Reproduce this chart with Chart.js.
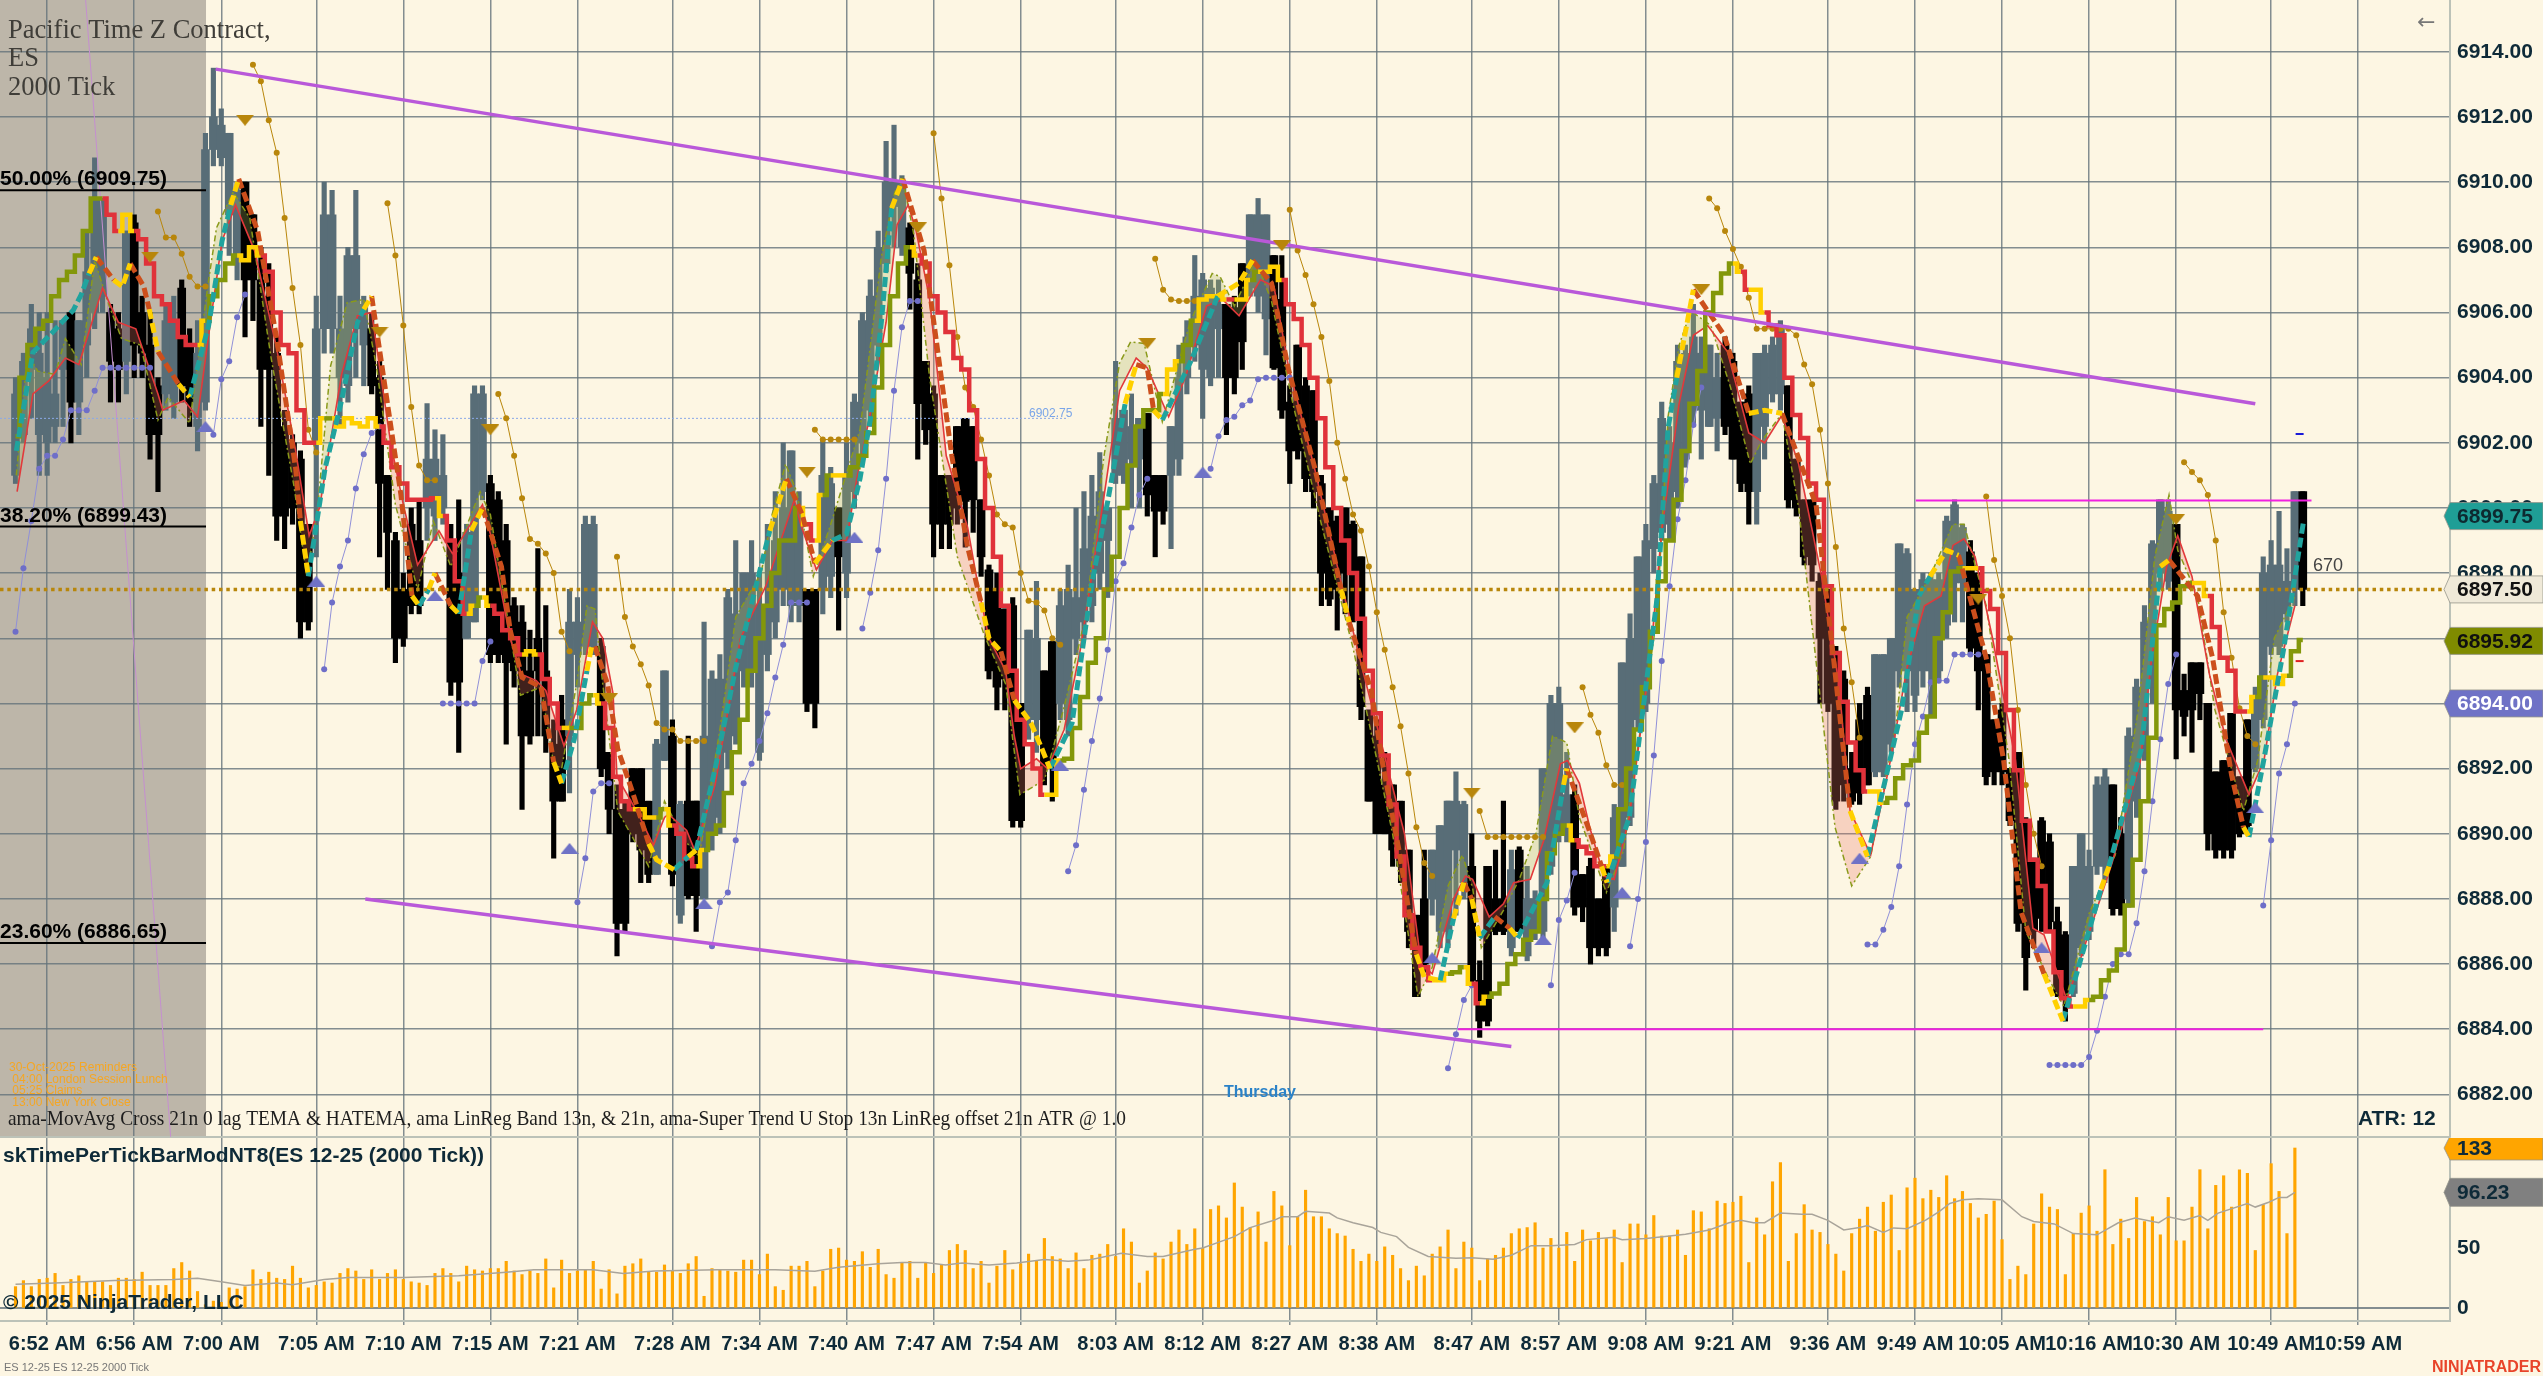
<!DOCTYPE html>
<html>
<head>
<meta charset="utf-8">
<title>ES 12-25 2000 Tick</title>
<script src="https://cdn.jsdelivr.net/npm/chart.js@4"></script>
<style>
  html, body { margin: 0; padding: 0; background: #fdf6e3; overflow: hidden; }
  canvas { position: absolute; left: 0; display: block; }
  #priceChart { top: 0; }
  #volChart { top: 1138px; }
</style>
</head>
<body>
<canvas id="priceChart" width="2543" height="1138"></canvas>
<canvas id="volChart" width="2543" height="238"></canvas>
<script>
const tickBars = [4,15,26,38,49,60,71,83,94,105,116,127,139,150,161,172,184,195,206,217,229,240,251,262,273,285,296];
const tickLabels = ['6:52 AM','6:56 AM','7:00 AM','7:05 AM','7:10 AM','7:15 AM','7:21 AM','7:28 AM','7:34 AM','7:40 AM','7:47 AM','7:54 AM','8:03 AM','8:12 AM','8:27 AM','8:38 AM','8:47 AM','8:57 AM','9:08 AM','9:21 AM','9:36 AM','9:49 AM','10:05 AM','10:16 AM','10:30 AM','10:49 AM','10:59 AM'];
const priceTicks = [6882,6884,6886,6888,6890,6892,6894,6896,6898,6900,6902,6904,6906,6908,6910,6912,6914];
const volTicks = [0,50,100];

const barOpen = [6901,6902.25,6904.25,6902.25,6902,6902.5,6904.25,6906,6903.25,6905,6906,6906.5,6906,6905.5,6904.5,6908.75,6906,6905,6903.75,6903.5,
6903.25,6906.75,6905,6902.5,6903.25,6911,6910.75,6909,6907.75,6910,6909,6907,6906.5,6904.75,6902.5,6902,6901.5,6899.5,6902,6905.5,
6905.5,6904,6903.75,6905.5,6905,6905.5,6904,6901,6899,6897.5,6899.5,6899,6900,6899.75,6900,6899,6898,6896,6896.5,6900.5,
6900.75,6900.25,6899,6897,6896.5,6895,6896,6895,6892.75,6893.5,6893,6895.5,6895.75,6895.75,6895.75,6892.5,6890.75,6890.75,6892,6892,
6891,6888.75,6892.25,6893,6887.5,6891,6891,6888,6890,6890.5,6892.5,6893,6895,6895,6892.5,6895.5,6896.5,6897.5,6897,6897,
6897.5,6897.5,6897.5,6897.9,6900,6898,6900.5,6902,6903,6905,6907.5,6909.25,6908,6908.6,6907,6904.5,6903.5,6901,6901,6902.5,
6902.75,6902.5,6900.25,6898.1,6897.5,6896.9,6897,6894,6893.5,6893.5,6895,6895.9,6894,6893.5,6896,6896.5,6897,6898,6899,6901,
6901,6901.5,6901.5,6902.9,6901,6901,6901,6901.5,6904,6905,6904.25,6904,6905.5,6906.25,6906.15,6907.5,6906.75,6906.5,6905.8,6907.75,
6906.4,6903.25,6905,6903.75,6903.6,6900.75,6900,6899.6,6900,6899.5,6898.5,6893.8,6893,6891.5,6891.5,6891,6889.5,6887.5,6888,6888,
6887,6887,6889.5,6888.5,6889,6885.5,6889,6888,6888,6886.5,6889.5,6886.25,6887,6887,6889,6890,6890,6891.2,6888.75,6889,
6888,6889,6887.75,6889,6890.5,6893.5,6894,6898.75,6899.25,6899.5,6900.5,6901.5,6903,6903,6902.5,6902.75,6905,6904.5,6903.25,6903.5,
6900.5,6902.5,6903.5,6903.5,6903.75,6901.5,6900.25,6900.25,6897.75,6897.5,6895.6,6894.75,6892,6893.5,6894.25,6891.9,6891.9,6892.75,6895,6895,
6894.25,6895,6895,6895,6896.4,6897.7,6897.7,6898.65,6898,6895.5,6893.5,6893.8,6892,6892.5,6890.4,6889.25,6890.4,6889.75,6887.3,6886.9,
6885.1,6886.5,6887,6889,6889,6891.5,6890,6888,6891,6892.5,6894.5,6898,6897.75,6899.5,6894.4,6895.25,6895.25,6894,6891.9,6892.25,
6893.7,6891.75,6893.5,6892,6893.5,6895.75,6895.75,6896.75,6897.5,6900.5];
const barClose = [6903.5,6904.5,6905.5,6904.75,6904,6903.5,6905.75,6903.25,6905.75,6907.25,6909.5,6909.5,6904.5,6904.25,6908.5,6905,6904.75,6902.25,6902.25,6905.75,
6905.75,6903.75,6903.25,6904.75,6911,6912,6911.75,6911.5,6909.75,6907,6907,6904.25,6904.25,6899.75,6899.75,6900,6896.5,6896.5,6905.5,6909,
6909,6905.5,6907.75,6907.75,6906.25,6903.75,6900.75,6899.25,6896,6896,6897,6897,6901.5,6901.5,6901,6894.65,6894.65,6899.25,6903.5,6903.5,
6895.5,6895.5,6895.25,6895,6893,6893,6895,6893,6891,6891,6896.5,6896.5,6899.5,6899.5,6892,6890.75,6887.25,6887.25,6890,6889.5,
6888.75,6892.75,6895,6888.75,6890.9,6888.1,6888.1,6893,6894.75,6894.75,6897.25,6896.75,6898,6898,6897,6897,6899,6900,6901.75,6900,
6894,6894,6901,6900.75,6898.5,6901,6903.25,6905.75,6906.5,6908,6910,6910,6910,6907.2,6903.2,6902.4,6899.5,6899.5,6899.5,6900,
6900.2,6900.25,6898.5,6895,6894.5,6894.75,6890.4,6890.4,6896.25,6896,6892,6892,6897,6897.5,6897.25,6898.75,6899.75,6900.5,6900,6902.75,
6903,6902.5,6902.75,6900.4,6899.9,6899.9,6902.5,6904,6905.25,6906.5,6907,6906.75,6906.25,6904,6904,6905.1,6909,6909,6909,6904.3,
6903,6901.75,6901.75,6900.9,6900.5,6898,6897.2,6897.5,6898,6896.6,6893.9,6891,6890,6890,6889.5,6889,6887,6885,6886,6889.5,
6890.25,6891,6891,6890.9,6885.5,6884.25,6884.25,6887,6887,6888.9,6887,6888,6888,6892,6894,6894,6891.2,6887.75,6887.75,6886.5,
6886.5,6886.5,6890.5,6895.25,6896,6898.5,6899,6900.75,6902.75,6902,6904.5,6904.75,6905.25,6904.75,6905,6904,6902.5,6901.5,6900.75,6900.5,
6904.75,6904.75,6905,6905.5,6900.25,6900,6898.5,6898.25,6896,6894,6891,6891.5,6891,6891.25,6891.5,6895.5,6895.5,6896,6898.9,6898.6,
6897.5,6897.8,6897.8,6897.8,6899.6,6900.1,6899.4,6895.7,6895,6891.75,6891.9,6891.9,6890.4,6887.25,6886.2,6887,6887.4,6887.3,6885.1,6885.1,
6889,6890,6889,6891.5,6891.75,6887.7,6887.7,6893,6894.5,6896.5,6898.9,6900.25,6899.9,6893.8,6893.6,6893.8,6894.3,6890,6889.5,6889.5,
6889.5,6890,6890.25,6894.25,6898,6898.25,6898.25,6897.75,6900.5,6897.5];
const barHigh = [6904,6904.75,6906.25,6906,6906,6905.75,6905.75,6906,6905.75,6908.5,6910.75,6909.5,6906.25,6906,6908.5,6909,6906.5,6906,6904,6906.25,
6906.5,6907,6905.5,6905.75,6911.5,6913.5,6912.25,6911.5,6910,6910,6909,6908,6907.5,6905.25,6903,6902.25,6901.75,6899.5,6906.5,6910,
6909.75,6906.5,6908,6909.75,6906.5,6906,6904.5,6901,6899.25,6898,6900,6900.25,6903.2,6902.4,6902.25,6899.5,6900.25,6899.5,6903.75,6903.75,
6901,6900.5,6899.5,6897.25,6897,6896.25,6898.75,6897,6893.5,6894.25,6897.5,6897.25,6899.75,6899.75,6896,6892.5,6891.5,6891,6892,6892,
6891,6892.9,6895,6893.5,6891,6893,6891,6896.5,6895,6895.5,6897.5,6899,6898,6899,6898,6899.5,6900.5,6902,6901.75,6900.5,
6897.5,6897.5,6902.1,6901.25,6900,6902,6903.5,6906,6907,6908.5,6911.25,6911.75,6910.2,6908.75,6907.5,6904.5,6903.75,6901,6901,6902.5,
6902.75,6902.5,6900.25,6898.25,6898,6896.9,6897.25,6894,6896.25,6897.75,6895,6895.9,6897.5,6898.25,6900,6900.5,6901,6901.7,6900,6904.5,
6903,6903.5,6902.75,6902.9,6901,6901,6902.5,6905,6905.75,6907.75,6907.2,6907,6907,6906.25,6906.5,6907.5,6909,6909.5,6909,6907.75,
6907.75,6903.75,6905,6904,6903.6,6901,6900,6899.75,6900,6899.6,6898.5,6893.8,6893.5,6892.5,6891.5,6891,6889.5,6887.5,6889.5,6889.5,
6890.25,6891,6891.9,6891,6890,6886.1,6889,6889.5,6891,6889.5,6889.6,6889,6888.25,6892,6894.25,6894.5,6892.5,6891.5,6888.75,6889.25,
6888,6889,6890.9,6895.25,6896.75,6898.5,6899.5,6901,6903.25,6902.5,6905,6905,6906.25,6905.25,6905,6904.75,6905.25,6904.75,6903.25,6903.75,
6904.75,6905,6905.25,6905.75,6903.75,6901.5,6900.25,6900.25,6898,6897.5,6895.75,6895,6892.5,6894,6894.5,6895.5,6895.5,6896,6898.9,6898.75,
6897.5,6898,6898,6898,6899.75,6900.25,6899.5,6899,6898,6895.5,6893.5,6894,6892,6892.5,6890.5,6889.25,6890.5,6890,6887.75,6887,
6889,6890,6889.5,6891.75,6892,6891.5,6890.5,6893.25,6894.75,6897,6899,6900.25,6900.25,6899.5,6894.9,6895.25,6895.25,6894,6891.9,6892.25,
6893.7,6891.75,6893.5,6894.5,6898.5,6899,6899.9,6898.75,6900.5,6900.5];
const barLow = [6900.75,6902,6902.75,6901,6901,6902,6902.5,6902,6902.25,6904,6905.5,6906,6903.25,6903.25,6903.5,6904,6904,6901.5,6900.5,6903,
6902.75,6903.25,6902.5,6901.75,6903,6910.5,6910.5,6907.75,6907,6905.25,6905.75,6902.5,6901,6899,6898.75,6899.5,6896,6896.25,6898.5,6904.75,
6904.75,6902.5,6903.25,6904,6903.75,6903.5,6898.5,6897.5,6895.25,6895.75,6896.75,6896.75,6899,6899,6899.5,6894.25,6892.5,6896,6896.5,6900.25,
6895.25,6895.25,6892.75,6894.5,6890.75,6892.75,6893,6892.5,6889.25,6891,6891.25,6894.5,6895.5,6895.5,6891.75,6890,6886.25,6887,6889.75,6888.5,
6888.5,6888.75,6892.25,6888.4,6887.25,6888,6887,6888,6889.5,6890,6892,6892.75,6894.5,6894.5,6892.25,6895,6896,6897,6896.5,6896.5,
6893.75,6893.25,6896.75,6897.25,6896.25,6897.25,6900,6901.5,6902.5,6904.5,6907.25,6908,6907.75,6906.1,6901.5,6901.95,6898.5,6898.75,6898.75,6899.5,
6898.8,6899.25,6897.9,6894.75,6893.8,6893.8,6890.2,6890.2,6892.9,6892.5,6891.5,6891,6893.5,6893,6895.5,6896,6896.5,6897.5,6897.25,6900.75,
6900.75,6900,6900,6899.75,6898.5,6899.5,6898.75,6901,6903.5,6904.5,6902.75,6903.75,6904,6902.25,6903.5,6904.25,6906.5,6906,6904.7,6904.25,
6902.75,6900.75,6901.5,6900.5,6900,6897,6897,6896.25,6896.75,6896.5,6893.5,6891,6890,6890,6889,6888.5,6886.5,6885,6885.75,6887.5,
6886.5,6886.5,6887.5,6888,6885.4,6883.75,6884.1,6886.9,6886.9,6886.25,6887,6886.1,6886.75,6886.75,6888.75,6889.75,6889.75,6887.5,6887.3,6886,
6886.25,6886.25,6887,6889,6890.25,6893.25,6893.75,6898,6899,6899,6900,6901.25,6902.5,6901.5,6902.5,6901.75,6902.25,6901.5,6900.5,6899.5,
6899.5,6901.5,6903.25,6903,6900,6899.75,6898.25,6897.75,6894,6893.75,6890.75,6891,6890.9,6890.9,6891.5,6891.75,6891.75,6892.5,6894.5,6893.75,
6893.75,6894.5,6893.6,6894.75,6896,6896.5,6896.5,6895.5,6893.8,6891.5,6891.5,6891.5,6890.25,6887,6885.2,6886.5,6887,6887,6885,6884.25,
6885,6886.25,6886.75,6888.75,6888.5,6887.5,6887.5,6887.75,6890.5,6892.25,6894,6897.5,6897.5,6892.3,6893,6892.5,6893.5,6889.5,6889.25,6889.25,
6889.25,6889.9,6890,6891.9,6893.25,6895.5,6895.5,6896.5,6897,6897];

const stepLine = [6902.2,6904,6905,6905.5,6905.75,6906.5,6907,6907.25,6907.75,6908.5,6909.5,6909.5,6909,6908.5,6909,6908.5,6908.25,6907.5,6906.5,6906.25,
6905.75,6905.25,6905,6905,6905.75,6906.5,6907,6907.5,6907.75,6907.6,6908,6907.75,6907.25,6906,6905,6904.75,6903,6902,6902,6902.75,
6902.75,6902.5,6902.75,6902.6,6902.5,6902.75,6902.5,6902,6901.25,6900.75,6900.25,6900.25,6900.25,6900.3,6899.75,6899,6897.75,6896.75,6897,6897.25,
6897,6896.75,6896.25,6896,6895.5,6895.6,6895.5,6894.75,6894,6893.25,6893.25,6893.25,6894,6894.25,6894,6893.25,6891.75,6891,6890.75,6890.75,
6890.5,6890.5,6890.75,6890.25,6890,6889.25,6889,6889.5,6890,6890.25,6891.25,6892.5,6893.5,6895,6896,6897,6898,6899,6899,6900,
6899.5,6899,6900.4,6901,6901,6901,6901.25,6901.6,6902.3,6903.7,6905,6906.5,6907.5,6908,6907.75,6907.5,6906.5,6906,6905.4,6904.6,
6904.25,6903,6901.5,6900,6898.5,6897,6895,6893.5,6892.75,6892,6891.2,6891.2,6892.25,6892.3,6893.25,6894.2,6895.25,6896,6897.5,6898.5,
6900,6901.3,6902.5,6903,6903,6903.5,6904.25,6904.5,6905,6905.75,6906.4,6906.5,6906.5,6906.4,6906.4,6906.4,6907,6907.25,6907.25,6907.4,
6907,6906.25,6905.8,6905,6904,6902.75,6901.25,6900,6899,6898,6896.6,6895,6893.7,6892.4,6890.9,6889.3,6887.5,6886.5,6885.9,6885.5,
6885.5,6885.7,6885.75,6885.9,6885.4,6884.8,6885,6885.1,6885.4,6886,6886.3,6886.75,6887,6888,6889.4,6890,6890.25,6889.8,6889.6,6889.4,
6889,6889,6889.3,6890.75,6892,6893.2,6894.5,6896.2,6897.75,6899,6900.25,6901.75,6903.2,6904.2,6906,6906.6,6907.2,6907.5,6907.25,6906.7,
6906.7,6906,6905.6,6905.3,6904,6902.85,6902.15,6900.75,6900.25,6897.6,6895.55,6894.05,6892.8,6891.95,6891.3,6891.3,6890.95,6891.1,6891.7,6892.1,
6892.25,6893.1,6893.6,6896,6896.8,6898.05,6898.15,6898.15,6898.15,6897.45,6896.9,6895.55,6893.8,6891.95,6890.4,6889.2,6888.4,6887,6885.75,6884.95,
6884.7,6884.7,6884.9,6885,6885.5,6885.8,6886.45,6887.8,6889.2,6891,6892.95,6896.4,6896.9,6897.1,6897.6,6897.7,6897.7,6897.3,6896.35,6895.4,
6895,6893.75,6893.75,6894.2,6894.8,6894.8,6894.6,6894.85,6895.6,6895.95];
const stepRuns = [['o',11],['r',2],['y',2],['r',8],['y',1],['o',4],['y',3],['r',7],['y',1],['o',1],['y',6],['r',7],['y',1],['r',3],['y',1],['o',1],['y',1],['r',4],['y',2],['r',3],['y',1],['o',3],['y',1],['r',4],['y',3],['o',1],['y',1],['r',3],['y',1],['o',12],['y',1],['r',1],['y',1],['o',1],['y',2],['o',8],['y',1],['r',16],['y',2],['o',13],['y',2],['o',2],['y',4],['r',1],['y',2],['o',1],['y',3],['r',19],['y',2],['o',2],['y',1],['r',1],['y',1],['o',10],['y',1],['r',4],['y',1],['o',15],['y',1],['r',1],['y',2],['r',13],['y',2],['o',10],['y',2],['r',12],['y',2],['o',13],['y',2],['r',5],['y',1],['o',1],['y',3],['o',3]];

const dashTeal = [[0.1,6901.75],[2.2,6904.77],[4.9,6905.45],[7.3,6906.07],[8.3,6906.55],[9.3,6907.2],null,
[22,6903.4],[24.4,6905.6],[26.1,6908.2],[27.2,6909.3],null,[37,6897.9],[39.1,6901.2],[41.2,6903.3],[43.2,6905.7],[44,6906.1],null,
[51,6897],[52.2,6897.5],null,[56,6896.75],[57.6,6899.3],null,[69,6891.55],[70.6,6892.9],[72.2,6895],null,[83.2,6888.9],[85,6889.3],null,
[86,6889.5],[88.4,6892],[91,6895.1],[95.3,6899.3],null,[103.2,6899],[105,6899.2],[106.7,6900.9],[108,6902.7],[109.4,6905.7],[110.7,6909.2],null,
[130.7,6892],[133.5,6893.4],[136,6897.7],[138,6900.2],[140.2,6903.2],null,[144.9,6902.7],[148.5,6904.5],[151.9,6906.5],null,
[180,6885.5],[181.7,6887.4],null,[185,6886.8],[186.9,6887.45],null,[189.8,6886.8],[193.5,6888.5],[195.6,6891.5],null,
[201.1,6888.5],[203.9,6890.5],[207.4,6897.2],[208.8,6902.45],[209.9,6904],null,[234,6889.3],[238.3,6893.8],[240.5,6897.3],[241.9,6897.9],null,
[258.7,6884.25],[263.5,6888.3],null,[264.5,6889],[268.6,6892.6],[271,6898.2],null,[282.2,6889.9],[284.1,6892.3],[286.6,6895.7],[289.1,6899.6]];
const dashOrange = [[10.2,6907.7],[12.4,6907],null,[14.5,6907.5],[16.2,6906.8],[16.9,6906.1],null,[18,6904.8],[20.6,6903.8],null,
[28.2,6910.1],[30.6,6908.5],[33,6905.2],[35.4,6901.2],[36,6899.6],null,[45,6906.5],[46.7,6903.7],[48.7,6900.4],[50.1,6897.3],null,[53,6898],[55,6897],null,
[59,6900],[61.4,6898.2],[62.5,6896.25],[64,6894.8],[66.4,6894.5],[68,6892.2],null,[73.2,6895.75],[74.8,6894.6],[76.1,6892.6],[78,6891.25],[80,6889.7],null,
[97.4,6900.9],[99.4,6899.8],[101,6898.3],null,[112.1,6910.1],[114.8,6907.9],[116.2,6905.4],[118.3,6901.6],[120.3,6898.8],[122,6897.1],null,
[124.5,6895.6],[126.2,6894.1],null,[141.6,6904.4],[143,6904.3],[143.8,6903],null,[156.3,6907.6],[158.7,6906.9],[160.8,6904.3],[164.2,6901.2],[167.5,6897.5],null,
[168.5,6896.5],[171.3,6894.4],[172.7,6892.2],[174.8,6889.5],[176.2,6887.4],[177,6886.3],null,[183,6888.5],[184,6888],null,[186.9,6887.45],[188.8,6887.1],null,
[196,6892],[199,6890],[200.4,6889],null,[212,6906.7],[215.9,6905.3],[219,6902.9],null,[223.2,6902.9],[227.5,6900.1],[229.7,6895.4],[231.8,6890.7],null,
[245.5,6898.55],[249,6895.4],[251.2,6892.25],[253.4,6887.6],[256.3,6885.7],null,[272.1,6898.4],[275.7,6897.3],[277.6,6895.4],[280,6891.8],[281.5,6890.2]];
const dashYellow = [[9.3,6907.2],[10.2,6907.7],null,[12.4,6907],[13.5,6906.8],[14.5,6907.5],null,[16.9,6906.1],[18,6904.8],null,[20.6,6903.8],[22,6903.4],null,
[27.2,6909.3],[28.2,6910.1],null,[36,6899.6],[37,6897.9],null,[44,6906.1],[45,6906.5],null,[50.1,6897.3],[51,6897],null,[52.2,6897.5],[53,6898],null,[55,6897],[56,6896.75],null,
[57.6,6899.3],[59,6900],null,[68,6892.2],[69,6891.55],null,[72.2,6895],[72.8,6895.75],null,[80,6889.7],[81,6889.2],[83.2,6888.9],null,[85,6889.3],[86,6889.5],null,
[95.3,6899.3],[97.4,6900.9],null,[101,6898.3],[103.2,6899],null,[110.7,6909.2],[112.1,6910.1],null,[122,6897.1],[123,6896],[124.5,6895.6],null,
[126.2,6894.1],[128.3,6893.4],[129.7,6892.6],[130.7,6892],null,[140.2,6903.2],[141.6,6904.4],null,[143.8,6903],[144.9,6902.7],null,[151.9,6906.5],[154.6,6906.9],[156.3,6907.6],null,
[167.5,6897.5],[168.5,6896.5],null,[177,6886.3],[178,6885.6],[180,6885.5],null,[181.7,6887.4],[183,6888.5],null,[184,6888],[185,6886.8],null,[188.8,6887.1],[189.8,6886.8],null,
[195.6,6891.5],[196,6892],null,[200.4,6889],[201.1,6888.5],null,[209.9,6904],[212,6906.7],null,[219,6902.9],[221,6903],[223.2,6902.9],null,[231.8,6890.7],[234,6889.3],null,
[241.9,6897.9],[244,6898.7],[245.5,6898.55],null,[256.3,6885.7],[258.7,6884.25],null,[263.5,6888.3],[264.5,6889],null,[271,6898.2],[272.1,6898.4],null,[281.5,6890.2],[282.2,6889.9]];

const thinRed = [[0.2,6900.5],[2.2,6903.5],[4.2,6903.9],[6.3,6904.6],[8,6904.4],[11,6906.75],[13,6905.7],[15.2,6905.5],[18,6903.5],[18.6,6903],[21.3,6903.3],[23,6902.8],[24.8,6906],[26.1,6908.2],[27.8,6909.3],[30.2,6907.9],[33,6904.9],[35.4,6901.75],[37.1,6899.15],[38.4,6900],[41.2,6904.1],[43.2,6905.9],[45,6906],[47.4,6902],[49,6900.1],[50.8,6898.25],[53.5,6899.3],[55.2,6898.6],[59,6900.1],[60,6899.2],[62.5,6896],[63.9,6894.9],[65.8,6894.7],[67,6894.4],[69.3,6892.7],[70.9,6893.8],[72.9,6896.5],[74.2,6896],[75.5,6894.3],[76,6891.75],[78.7,6890.6],[80.6,6889.65],[82,6890.5],[82.5,6890.6],[84.8,6890.1],[85.8,6889.5],[88.4,6891.5],[91.6,6896],[94.8,6897.6],[98.4,6900.25],[99.2,6899.5],[101.2,6898.1],[103.2,6899],[105,6899],[106.3,6900.9],[108,6902.9],[110,6905.7],[111.4,6908.7],[112.8,6909.3],[113.8,6908.5],[115.5,6906.4],[117.6,6901.6],[120.3,6899.4],[121.7,6897.5],[123,6896],[125.1,6895],[126.2,6893],[127,6892],[129,6892.3],[130.4,6892],[132.5,6893.2],[134.5,6895.6],[137.5,6900.3],[139.5,6903.6],[141.6,6904.6],[143,6904.3],[145.7,6902.8],[147.8,6904],[150.5,6906.2],[152.5,6906.4],[154.6,6905.9],[157.3,6907],[159,6906.8],[160.8,6904.4],[164.2,6901.15],[167.6,6897.6],[170.4,6894.85],[175.5,6890],[177.6,6886],[179,6885.7],[181.7,6888],[183.2,6888.7],[184.1,6888.6],[186.2,6887.45],[188,6887.85],[189.3,6888.5],[191.4,6888.6],[193.1,6889.8],[195.2,6892.15],[196.1,6892.25],[197.6,6891.55],[198.9,6890.2],[200.7,6888.7],[202,6888.6],[203.9,6890.5],[206.6,6895.5],[208,6899.3],[210.2,6903.2],[212,6905.3],[213.8,6905.6],[216.3,6904.8],[219,6902.3],[221,6902],[223.2,6902.85],[225.3,6901.35],[228.2,6897.9],[230.4,6894.6],[231.8,6890.7],[234.4,6889.35],[236.9,6892.25],[239,6895.1],[241.2,6897],[243.3,6897.3],[244.8,6898.85],[246.2,6899.05],[247.6,6898.5],[249.8,6896],[252.7,6892.25],[254.9,6887.1],[256.3,6886.9],[259.2,6884.9],[261.3,6886.45],[264.9,6889.1],[268.5,6892.25],[269.9,6895.4],[271.8,6898.2],[273.2,6899.15],[275,6897.9],[277.2,6894.9],[279.3,6892.9],[282.2,6891.2],[284.1,6892.25],[285.8,6894.9],[288,6897]];
const bandLine = [[0.1,6901],[1.5,6904.75],[2.8,6904.2],[5,6904.1],[6.3,6905.2],[8.3,6904.4],[10,6907.6],[11.7,6906.3],[13.4,6905.2],[15.8,6905],[18,6902.7],[19.3,6903.4],[22,6902.6],[24.4,6907],[25.4,6908.6],[27.5,6909.7],[29.6,6908.9],[32.3,6904.6],[35.2,6900.65],[36.8,6897.9],[38.1,6899.8],[39.8,6904.35],[41.9,6906.3],[44,6906.4],[45.6,6904.35],[48,6900.1],[50.8,6897.5],[52.8,6899.6],[55,6898.2],[58.7,6900.5],[60,6899.8],[63.8,6894.25],[66.4,6894.5],[68,6892.15],[69,6892],[70.9,6894.6],[72.2,6897],[73.2,6896.9],[74.2,6894.6],[76.1,6890.7],[80,6889],[82,6891],[84.5,6889.8],[86.4,6889.3],[89,6893.2],[91,6896.65],[94.2,6898],[95.6,6899.8],[97.3,6901.35],[98.7,6900.5],[100.8,6897.9],[103,6899.5],[106.7,6902.4],[109.4,6907.7],[111.1,6909.7],[112.1,6910.1],[113.5,6908.4],[115.5,6904],[119,6898.5],[122.4,6896.1],[125.1,6894.6],[126.9,6891.2],[130,6891.65],[132.5,6893.9],[135.2,6896.65],[137.5,6901.55],[139.5,6904.45],[140.9,6905.1],[142.6,6905.05],[144.9,6902.65],[148.4,6905.7],[151.2,6907.2],[152.2,6907.1],[154,6906.2],[156.7,6907.6],[158.7,6906.35],[161.4,6903.2],[165,6899.5],[169,6895.7],[174,6890],[177.2,6885],[179,6885.9],[181,6888.4],[182.8,6889.35],[184.1,6888.35],[185.2,6886.5],[188,6887.65],[190,6888.6],[192.1,6890],[194.2,6893],[196,6892.8],[197.6,6890.5],[201,6888.2],[203.2,6889.5],[205.3,6893.2],[207.4,6896.65],[208.8,6902.8],[210.2,6905],[211.7,6906.05],[214.2,6905.6],[216.7,6903.7],[219.2,6901.35],[220.6,6902.05],[223.2,6902.9],[225.3,6900],[228.2,6893.8],[229.9,6890.2],[232,6888.4],[234.4,6889.3],[237.6,6893.35],[239,6896.65],[241.9,6897.9],[244.8,6899.5],[246.2,6899.5],[249,6897],[251.9,6892.25],[254,6887],[257,6885.5],[258.8,6884.7],[262,6887.55],[265.3,6889.35],[268.2,6893.8],[270.3,6898.5],[272.1,6900.4],[273.2,6898.7],[275.7,6897.3],[277.9,6893.8],[281.5,6890.7],[283.3,6892.25],[285.4,6896],[288,6897.3]];

const goldDots = [[18,6909.1],[19,6908.3],[20,6908.3],[21,6907.8],[22,6907.1],[23,6906.8],[24,6906.8],null,
[30,6913.6],[31,6913.1],[32,6911.9],[33,6910.9],[34,6908.9],[35,6906.75],[36,6905],[37,6902.4],[38,6901.7],null,
[47,6909.35],[48,6907.75],[49,6905.6],[50,6903.1],[51,6901.3],[52,6900.85],[53,6900.85],null,
[61,6903.5],[62,6902.75],[63,6901.6],[64,6900.3],[65,6899.05],[66,6898.9],[67,6898.6],[68,6898],[69,6896.2],[70,6895.6],null,
[76,6898.5],[77,6896.65],[78,6895.75],[79,6895.2],[80,6894.55],[81,6893.4],[82,6893.2],[83,6893.2],[84,6892.85],[85,6892.85],[86,6892.85],[87,6892.85],null,
[101,6902.4],[102,6902.1],[103,6902.1],[104,6902.1],[105,6902.1],[106,6902.1],null,
[116,6911.5],[117,6909.5],[118,6907.45],[119,6905.25],[120,6903.7],[121,6903.1],[122,6902.1],[123,6901],[124,6899.8],[125,6899.5],[126,6899.4],[127,6898],[128,6897.15],[129,6897.1],[130,6896.85],[131,6896],[132,6895.8],null,
[144,6907.65],[145,6906.7],[146,6906.4],[147,6906.35],[148,6906.35],[149,6906.35],null,
[161,6909.15],[162,6907.9],[163,6907.15],[164,6906.25],[165,6905.25],[166,6903.9],[167,6902],[168,6900.9],[169,6899.8],[170,6899.3],[171,6898.2],[172,6896.8],[173,6895.65],[174,6894.5],[175,6893.3],[176,6891.85],[177,6890.2],[178,6889.1],[179,6888.7],null,
[185,6890.7],[186,6889.9],[187,6889.9],[188,6889.9],[189,6889.9],[190,6889.9],[191,6889.9],[192,6889.9],[193,6889.9],null,
[198,6894.5],[199,6893.65],[200,6893.1],[201,6892.1],[202,6891.5],[203,6891.5],null,
[214,6909.5],[215,6909.2],[216,6908.5],[217,6907.95],[218,6907.4],[219,6906.45],[220,6905.5],[221,6905.5],[222,6905.5],[223,6905.5],[224,6905.5],[225,6905.3],[226,6904.4],[227,6903.8],[228,6902.4],[229,6900.75],[230,6898.8],[231,6896.3],[232,6894.65],[233,6892.95],null,
[249,6900.35],[250,6898.4],[251,6897.3],[252,6896],[253,6893.8],[254,6891.5],[255,6890],[256,6889],null,
[274,6901.4],[275,6901.1],[276,6900.85],[277,6900.4],[278,6899],[279,6896.8],[280,6895.4],[281,6893.85],[282,6893],[283,6892.75]];
const blueDots = [[0,6896.2],[1,6898.15],[2,6899.6],[3,6901.2],[4,6901.6],[5,6901.6],[6,6902.1],[7,6903],[8,6903],[9,6903],[10,6903.6],[11,6904.3],[12,6904.3],[13,6904.3],[14,6904.3],[15,6904.3],[16,6904.3],[17,6904.3],null,
[25,6902.25],[26,6903.95],[27,6904.5],[28,6905.85],[29,6906.55],null,
[39,6895.05],[40,6897.1],[41,6898.2],[42,6899],[43,6900.6],[44,6901.65],[45,6902.3],[46,6902.5],null,
[54,6894],[55,6894],[56,6894],[57,6894],[58,6894],[59,6895.3],[60,6895.9],null,
[71,6887.9],[72,6889.25],[73,6891.3],[74,6891.55],[75,6891.55],null,
[88,6886.55],[89,6887.9],[90,6888.2],[91,6889.8],[92,6891.55],[93,6892.15],[94,6892.85],[95,6893.7],[96,6894.8],[97,6895.8],[98,6897.1],[99,6897.1],[100,6897.1],null,
[107,6896.3],[108,6897.4],[109,6898.7],[110,6900.9],[111,6903.6],[112,6905.55],[113,6906.35],[114,6906.35],null,
[133,6888.85],[134,6889.65],[135,6891.35],[136,6892.85],[137,6894.15],[138,6895.65],[139,6897.75],[140,6898.3],[141,6899.4],[142,6900.4],[143,6900.9],null,
[151,6901.2],[152,6902.2],[153,6902.7],[154,6902.8],[155,6903.15],[156,6903.3],[157,6903.95],[158,6904],[159,6904],[160,6904],[161,6904],null,
[181,6882.8],[182,6883.85],[183,6884.9],[184,6885.35],null,
[194,6885.35],[195,6887.35],[196,6887.95],[197,6888.8],null,
[204,6886.55],[205,6888],[206,6889.75],[207,6892.4],[208,6895.3],[209,6897.6],[210,6899.65],[211,6900.85],[212,6902.55],[213,6903.7],null,
[234,6886.6],[235,6886.6],[236,6887.05],[237,6887.75],[238,6889],[239,6890.9],[240,6892.75],[241,6893.6],[242,6894.65],[243,6894.7],[244,6894.7],[245,6895.5],[246,6895.5],[247,6895.5],[248,6895.5],null,
[257,6882.9],[258,6882.9],[259,6882.9],[260,6882.9],[261,6882.9],[262,6883.15],[263,6883.95],[264,6885],[265,6886],[266,6886.3],[267,6886.3],[268,6887.25],[269,6888.85],[270,6891],[271,6892.9],[272,6894.6],[273,6895.5],null,
[284,6887.8],[285,6889.8],[286,6891.85],[287,6892.75],[288,6894]];

const triDown = [[17,6907.7],[29,6911.9],[46,6905.4],[60,6902.4],[75,6894.15],[100,6901.1],[114,6908.6],[143,6905.05],[160,6908.05],[184,6891.25],[197,6893.25],[213,6906.7],[248,6897.2],[273,6899.65]];
const triUp = [[24,6902.5],[38,6897.75],[53,6897.3],[70,6889.55],[87,6887.85],[106,6899.1],[132,6892.1],[150,6901.1],[179,6886.2],[193,6886.75],[203,6888.2],[233,6889.25],[256,6886.5],[283,6890.8]];
const stopBlue = [[288.6,6902.27]];
const stopRed = [[288.6,6895.3]];

const trendTop = [[25.3,6913.47],[283,6903.2]];
const trendBottom = [[44.2,6888],[189,6883.47]];
const magentaTop = [[240.1,6900.23],[290.1,6900.23]];
const magentaBottom = [[182.25,6884],[284,6884]];
const paleLine = [[8.86,6915.6],[14.03,6898.7],[19.6,6880.7]];
const lastPriceLine = 6897.5;
const blueLevel = 6902.75;
const blueLevelEnd = 133;
const shadeEnd = 24.07;

const fibLevels = [6909.75,6899.43,6886.65];
const fibLabels = ['50.00% (6909.75)','38.20% (6899.43)','23.60% (6886.65)'];
const captionLines = ['Pacific Time Z Contract,','ES','2000 Tick'];
const reminderLines = ['30-Oct-2025 Reminders',' 04:00 London Session Lunch',' 05:25 Claims',' 13:00 New York Close'];
const indicatorText = 'ama-MovAvg Cross 21n 0 lag TEMA & HATEMA, ama LinReg Band 13n, & 21n, ama-Super Trend U Stop 13n LinReg offset 21n ATR @ 1.0';

const volBars = [18,23,18,24,25,29,19,24,27,22,22,22,19,25,25,24,30,19,19,19,33,38,31,14,3,6,5,17,16,18,32,24,30,25,24,35,25,17,19,22,21,29,33,31,24,32,24,29,32,24,22,21,19,29,33,29,22,35,32,31,33,33,39,31,28,31,29,41,17,40,29,31,32,39,16,32,12,35,37,41,30,30,36,31,29,37,43,10,33,32,31,30,40,40,28,45,18,15,35,35,39,18,31,49,50,40,39,47,34,49,28,25,
38,39,25,38,29,36,48,53,48,33,39,21,35,48,32,37,45,39,58,43,41,33,46,33,44,45,53,43,66,55,21,31,46,41,55,65,53,66,50,82,85,75,104,84,67,80,55,97,85,52,76,98,76,76,66,62,60,49,39,45,39,51,44,33,23,35,27,45,51,65,33,55,50,23,41,44,50,62,66,67,71,50,58,50,63,39,65,56,63,58,65,38,70,70,61,77,60,60,65,44,81,80,66,89,87,88,
93,38,75,61,105,121,39,62,86,65,63,53,45,31,62,74,84,64,88,94,48,100,108,91,98,92,110,91,97,87,75,78,89,57,24,35,28,70,95,84,82,28,62,79,85,64,115,53,74,58,92,72,76,61,92,56,56,84,115,66,102,110,84,115,112,48,86,120,97,62,133];
const volAvg = [[0,20],[5,21],[12.5,23],[20,24],[23,25],[26,22],[29,19],[33,21],[35,19.6],[39,24],[42,25.5],[49,25.5],[56,27],[62,30],[65.5,32],[73,32],[76.8,29],[80.7,31],[88.7,32],[96,32],[101,30.7],[104,34],[109,37],[112,38],[115,38],[117.5,36],[119.6,37.6],[123,36],[126.5,37.6],[130,40.6],[133,39],[135.5,40],[137,42],[139.7,45.6],[143,43],[145,43],[149,49],[150,50],[152.5,56],[154,59.5],[156,67],[159,73],[160,76],[162,76],[163,80.5],[166,79],[167,75],[169,71],[171.5,67],[172.5,63],[174.5,59.5],[176,50.6],[178.5,43],[182,41.5],[184,42],[186.7,40.7],[189,44],[191.5,52],[194,52],[197,53],[198.5,57],[202,59],[203,57],[206,58],[209,60],[211,61.4],[214,65],[216.5,71],[218,73],[219.6,71],[221,71],[223,79],[225.7,78],[227,78],[229,73],[231,65],[233,67],[234,68.6],[236,63],[237.3,66.7],[239,66],[241.3,73],[243,80],[244.4,87],[246,90],[248,91],[251,90],[253.5,76],[255,72],[257.6,70],[260,62],[263,61],[265.7,71],[267.8,75],[270.8,71],[272,76],[274,73],[276,77],[277,73],[278.3,79],[282,87],[283,84],[284.7,88],[286,92],[287,92],[288,96.23]];
const volTags = [[133,'133','#ffa500'],[96.23,'96.23','#808080']];
const priceTags = [[6899.75,'6899.75','#1f9e96','#0d2a30'],[6897.5,'6897.50','#efe9d8','#111111'],[6895.92,'6895.92','#7f8b00','#101010'],[6894,'6894.00','#6f72c6','#ffffff']];

const xMin = -1.96, xMax = 307.6;
const gridColor = 'rgba(100,115,122,0.8)';
const frameColor = '#bcc2b8';
const inkColor = '#0e2a38';
const oliveColor = '#83970a', redColor = '#e0323a', yellowColor = '#ffd000';
const tealColor = '#20a39e', orangeColor = '#cc4f1c';
const goldColor = '#b8860b';

const pts = a => a.map((p, i) => p ? { x: p[0], y: p[1] } : { x: a[i - 1][0], y: null });
const stepKinds = stepRuns.flatMap(r => Array(r[1]).fill(r[0]));
const stepColors = { o: oliveColor, r: redColor, y: yellowColor };
const barColors = barOpen.map((o, i) => barClose[i] > o ? '#586d77' : '#000000');

function triangleIcon(color, down) {
  const c = document.createElement('canvas');
  c.width = 18; c.height = 11;
  const g = c.getContext('2d');
  g.fillStyle = color;
  g.beginPath();
  if (down) { g.moveTo(0, 0); g.lineTo(18, 0); g.lineTo(9, 11); }
  else { g.moveTo(9, 0); g.lineTo(18, 11); g.lineTo(0, 11); }
  g.fill();
  return c;
}

function lineSet(data, color, width, order, extra) {
  return Object.assign({ type: 'line', data: data, borderColor: color, borderWidth: width, pointRadius: 0, order: order, spanGaps: false, fill: false }, extra || {});
}

function drawTag(ctx, y, h, text, fill, ink) {
  ctx.fillStyle = fill;
  ctx.strokeStyle = 'rgba(150,150,140,0.8)';
  ctx.lineWidth = 1;
  ctx.beginPath();
  ctx.moveTo(2444, y);
  ctx.lineTo(2450, y - h / 2);
  ctx.lineTo(2543, y - h / 2);
  ctx.lineTo(2543, y + h / 2);
  ctx.lineTo(2450, y + h / 2);
  ctx.closePath();
  ctx.fill();
  ctx.stroke();
  ctx.fillStyle = ink;
  ctx.textAlign = 'left';
  ctx.textBaseline = 'middle';
  ctx.font = 'bold 21px "Liberation Sans"';
  ctx.fillText(text, 2457, y + 1);
}

const priceDecor = {
  id: 'priceDecor',
  beforeDraw(chart) {
    const { ctx, chartArea, scales } = chart;
    ctx.save();
    ctx.fillStyle = '#bdb6a9';
    ctx.fillRect(chartArea.left, chartArea.top, scales.x.getPixelForValue(shadeEnd) - chartArea.left, chartArea.bottom - chartArea.top);
    ctx.restore();
  },
  afterDraw(chart) {
    const { ctx, scales } = chart;
    const y = scales.y, x = scales.x;
    ctx.save();
    // fib levels in the shaded session
    ctx.strokeStyle = '#000000';
    ctx.lineWidth = 2;
    fibLevels.forEach((v, i) => {
      const py = y.getPixelForValue(v);
      ctx.beginPath();
      ctx.moveTo(0, py);
      ctx.lineTo(x.getPixelForValue(shadeEnd), py);
      ctx.stroke();
      ctx.fillStyle = '#000000';
      ctx.font = 'bold 21px "Liberation Sans"';
      ctx.textAlign = 'right';
      ctx.textBaseline = 'alphabetic';
      ctx.fillText(fibLabels[i], 167, py - 5);
    });
    // captions
    ctx.textAlign = 'left';
    ctx.fillStyle = '#3f3d38';
    ctx.font = '26.5px "Liberation Serif"';
    captionLines.forEach((t, i) => ctx.fillText(t, 8, [38, 66, 95][i]));
    ctx.fillStyle = '#f5a623';
    ctx.font = '12px "Liberation Sans Narrow", "Liberation Sans"';
    reminderLines.forEach((t, i) => ctx.fillText(t, 9, 1071 + i * 11.6));
    ctx.fillStyle = '#1d1d1d';
    ctx.font = '21px "Liberation Serif"';
    ctx.fillText(indicatorText, 8, 1125, 1118);
    ctx.fillStyle = '#2a82c8';
    ctx.font = 'bold 16px "Liberation Sans"';
    ctx.textAlign = 'center';
    ctx.fillText('Thursday', 1260, 1097);
    ctx.fillStyle = '#7aa5e8';
    ctx.font = '12px "Liberation Sans"';
    ctx.textAlign = 'left';
    ctx.fillText('6902.75', 1029, 417);
    ctx.fillStyle = '#444444';
    ctx.font = '18px "Liberation Sans"';
    ctx.fillText('670', 2313, 571);
    ctx.fillStyle = inkColor;
    ctx.font = 'bold 21px "Liberation Sans"';
    ctx.fillText('ATR: 12', 2358, 1125);
    ctx.fillStyle = '#777777';
    ctx.font = '22px "DejaVu Sans"';
    ctx.fillText('\u2190', 2417, 29);
    priceTags.forEach(t => drawTag(ctx, y.getPixelForValue(t[0]), 27, t[1], t[2], t[3]));
    ctx.restore();
  }
};

const volDecor = {
  id: 'volDecor',
  afterDraw(chart) {
    const { ctx, scales } = chart;
    ctx.save();
    volTags.forEach(t => drawTag(ctx, scales.y.getPixelForValue(t[0]), t[0] === 133 ? 24 : 28, t[1], t[2], inkColor));
    ctx.fillStyle = inkColor;
    ctx.font = 'bold 21px "Liberation Sans"';
    ctx.textAlign = 'left';
    ctx.textBaseline = 'alphabetic';
    ctx.fillText('skTimePerTickBarModNT8(ES 12-25 (2000 Tick))', 3, 1162 - 1138);
    ctx.fillText('\u00a9 2025 NinjaTrader, LLC', 3, 1309 - 1138);
    ctx.fillStyle = '#777777';
    ctx.font = '11px "Liberation Sans Narrow", "Liberation Sans"';
    ctx.fillText('ES 12-25 ES 12-25 2000 Tick', 4, 1371 - 1138);
    ctx.fillStyle = '#e8442a';
    ctx.font = 'bold 16px "Liberation Sans Narrow", "Liberation Sans"';
    ctx.textAlign = 'right';
    ctx.fillText('NIN|ATRADER', 2541, 1372 - 1138);
    ctx.restore();
  }
};

const xScale = (showLabels) => ({
  type: 'linear',
  min: xMin,
  max: xMax,
  offset: false,
  afterBuildTicks: s => { s.ticks = tickBars.map(v => ({ value: v })); },
  afterFit: s => { s.height = showLabels ? 55 : 0; s.paddingLeft = 0; s.paddingRight = 0; },
  grid: { offset: false, color: gridColor, lineWidth: 1.5, drawTicks: showLabels, tickLength: 4, tickColor: gridColor },
  border: { display: true, color: frameColor, width: 2 },
  ticks: {
    display: showLabels,
    autoSkip: false,
    maxRotation: 0,
    minRotation: 0,
    padding: 7,
    color: inkColor,
    font: { family: '"Liberation Sans"', size: 20, weight: 'bold' },
    callback: v => tickLabels[tickBars.indexOf(v)]
  }
});
const fitY = s => { s.width = 93; s.paddingTop = 0; s.paddingBottom = 0; };

new Chart(document.getElementById('priceChart').getContext('2d'), {
  type: 'bar',
  plugins: [priceDecor],
  data: {
    datasets: [
      { data: barHigh.map((h, i) => ({ x: i, y: [barLow[i], h] })), backgroundColor: barColors, barThickness: 4.5, grouped: false, borderWidth: 0, order: 30 },
      { data: barOpen.map((o, i) => ({ x: i, y: [o, barClose[i]] })), backgroundColor: barColors, barThickness: 8, grouped: false, borderWidth: 0, order: 29 },
      lineSet(pts(paleLine), '#c58fd0', 1, 28),
      lineSet([{ x: xMin, y: blueLevel }, { x: blueLevelEnd, y: blueLevel }], '#8aa8e8', 1, 27, { borderDash: [2, 2] }),
      lineSet(pts(bandLine), '#8a9a1a', 1.5, 26, {
        borderDash: [6, 3, 2, 3],
        fill: { target: '+1', above: 'rgba(170,180,90,0.28)', below: 'rgba(235,120,100,0.28)' }
      }),
      lineSet(pts(thinRed), '#e2393b', 1.6, 25),
      lineSet(pts(goldDots), goldColor, 1, 24, { pointRadius: 3, pointBackgroundColor: goldColor, pointBorderWidth: 0 }),
      lineSet(pts(blueDots), '#9090d8', 1, 23, { pointRadius: 3, pointBackgroundColor: '#6e6ec8', pointBorderWidth: 0 }),
      lineSet(stepLine.map((v, i) => ({ x: i, y: v })), oliveColor, 4.5, 20, {
        stepped: 'middle',
        segment: { borderColor: c => stepColors[stepKinds[c.p0DataIndex]] }
      }),
      lineSet(pts(dashTeal), tealColor, 5, 18, { borderDash: [10, 4] }),
      lineSet(pts(dashOrange), orangeColor, 5, 17, { borderDash: [10, 4] }),
      lineSet(pts(dashYellow), yellowColor, 5, 16, { borderDash: [10, 4] }),
      lineSet([{ x: xMin, y: lastPriceLine }, { x: xMax, y: lastPriceLine }], goldColor, 3.5, 15, { borderDash: [3.5, 3.8] }),
      lineSet(pts(trendTop), '#b958d9', 3.5, 12),
      lineSet(pts(trendBottom), '#b958d9', 3.5, 12),
      lineSet(pts(magentaTop), '#f020e0', 2, 11),
      lineSet(pts(magentaBottom), '#f020e0', 2, 11),
      lineSet(pts(triDown), goldColor, 0, 9, { showLine: false, pointRadius: 9, pointStyle: triangleIcon(goldColor, true) }),
      lineSet(pts(triUp), '#6f72c6', 0, 9, { showLine: false, pointRadius: 9, pointStyle: triangleIcon('#6f72c6', false) }),
      lineSet(pts(stopBlue), '#1a1ad8', 0, 8, { showLine: false, pointRadius: 4, pointStyle: 'line', pointBorderColor: '#1a1ad8', pointBorderWidth: 2 }),
      lineSet(pts(stopRed), '#e02020', 0, 8, { showLine: false, pointRadius: 4, pointStyle: 'line', pointBorderColor: '#e02020', pointBorderWidth: 2 })
    ]
  },
  options: {
    responsive: false,
    animation: false,
    devicePixelRatio: 1,
    layout: { autoPadding: false, padding: { left: 0, right: 0, top: 0, bottom: 1 } },
    plugins: { legend: { display: false }, tooltip: { enabled: false } },
    scales: {
      x: xScale(false),
      y: {
        position: 'right',
        min: 6912 - (1137 - 117) / 32.58,
        max: 6912 + 117 / 32.58,
        afterBuildTicks: s => { s.ticks = priceTicks.map(v => ({ value: v })); },
        afterFit: fitY,
        grid: { color: gridColor, lineWidth: 1.5, drawTicks: false },
        border: { display: true, color: frameColor, width: 2 },
        ticks: {
          padding: 7,
          color: inkColor,
          font: { family: '"Liberation Sans"', size: 21, weight: 'bold' },
          callback: v => v.toFixed(2)
        }
      }
    }
  }
});

new Chart(document.getElementById('volChart').getContext('2d'), {
  type: 'bar',
  plugins: [volDecor],
  data: {
    datasets: [
      { data: volBars.map((v, i) => ({ x: i, y: v })), backgroundColor: '#ffa500', barThickness: 2.5, grouped: false, borderWidth: 0, order: 5 },
      lineSet(pts(volAvg), '#a9a49a', 1.5, 2)
    ]
  },
  options: {
    responsive: false,
    animation: false,
    devicePixelRatio: 1,
    layout: { autoPadding: false, padding: 0 },
    plugins: { legend: { display: false }, tooltip: { enabled: false } },
    scales: {
      x: xScale(true),
      y: {
        position: 'right',
        min: -10.5,
        max: 141.3,
        afterBuildTicks: s => { s.ticks = volTicks.map(v => ({ value: v })); },
        afterFit: fitY,
        grid: { color: c => c.tick && c.tick.value === 0 ? gridColor : 'rgba(0,0,0,0)', lineWidth: 2, drawTicks: false },
        border: { display: true, color: frameColor, width: 2 },
        ticks: {
          padding: 7,
          color: inkColor,
          font: { family: '"Liberation Sans"', size: 21, weight: 'bold' }
        }
      }
    }
  }
});
</script>
</body>
</html>
